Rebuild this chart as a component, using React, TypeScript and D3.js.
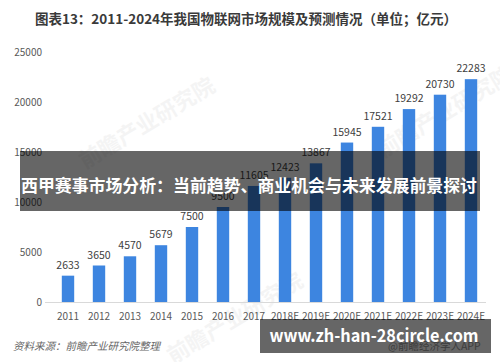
import React from 'react'
import * as d3 from 'd3'

const years = ['2011', '2012', '2013', '2014', '2015', '2016', '2017', '2018E', '2019E', '2020E', '2021E', '2022E', '2023E', '2024E']
const sizes = [2633, 3650, 4570, 5679, 7500, 9500, 11605, 12423, 13867, 15945, 17521, 19292, 20730, 22283]
const yTicks = [0, 5000, 10000, 15000, 20000, 25000]
// watermark centres (x, y)
const marks = [[147, 123], [445, 112], [235, 318]]

const W = 500
const H = 362
const font = '"Noto Sans CJK SC", "Open Sans", sans-serif'

export default function App() {
  const x = d3.scaleBand().domain(years).range([52.5, 486.5]).paddingInner(0.6).paddingOuter(0.3)
  const y = d3.scaleLinear().domain([0, 25000]).range([302, 52])

  return (
    <svg width={W} height={H} style={{ position: 'absolute', left: 0, top: 0, background: '#fff' }} fontFamily={font}>
      <rect width={W} height={H} fill="#fff" />
      <text x={246} y={24} textAnchor="middle" fontSize={13.5} fontWeight="bold" fill="#3a3a3a">
        图表13：2011-2024年我国物联网市场规模及预测情况（单位；亿元）
      </text>

      {/* faint watermark */}
      {marks.map(([mx, my], i) => (
        <text key={i} x={0} y={0} transform={`translate(${mx},${my}) rotate(-31)`} textAnchor="middle" dy="0.35em"
          fontSize={22} fill="#000" opacity={0.04} fontWeight="bold">
          前瞻产业研究院
        </text>
      ))}

      {yTicks.map(t => (
        <text key={t} x={42} y={y(t)} dy="0.35em" textAnchor="end" fontSize={10} fill="#595959">
          {t}
        </text>
      ))}

      <line x1={45} x2={486} y1={y(0) + 0.5} y2={y(0) + 0.5} stroke="#d9d9d9" />

      {years.map((yr, i) => (
        <g key={yr}>
          <rect x={x(yr)} y={y(sizes[i])} width={x.bandwidth()} height={y(0) - y(sizes[i])} fill="#3d85e0" />
          <text x={x(yr)! + x.bandwidth() / 2} y={y(sizes[i]) - 7} textAnchor="middle" fontSize={10.5} fill="#404040">
            {sizes[i]}
          </text>
          <text x={x(yr)! + x.bandwidth() / 2} y={320} textAnchor="middle" fontSize={10} fill="#595959">
            {yr}
          </text>
        </g>
      ))}

      <text x={13} y={350} fontSize={10.5} fontStyle="italic" fill="#666">
        资料来源：前瞻产业研究院整理
      </text>
      <text x={388} y={350} fontSize={10.5} fill="#999">
        @前瞻经济学人APP
      </text>

      {/* overlay banners */}
      <rect x={20} y={151} width={460} height={60} fill="#000" opacity={0.6} />
      <text x={249} y={192} textAnchor="middle" fontSize={17} fontWeight="bold" fill="#fff" textLength={456} lengthAdjust="spacingAndGlyphs">
        西甲赛事市场分析：当前趋势、商业机会与未来发展前景探讨
      </text>
      <rect x={260} y={319} width={231} height={34} fill="#000" opacity={0.6} />
      <text x={374} y={342} textAnchor="middle" fontSize={18} fontWeight="bold" fill="#fff" textLength={209} lengthAdjust="spacingAndGlyphs">
        www.zh-han-28circle.com
      </text>
    </svg>
  )
}
